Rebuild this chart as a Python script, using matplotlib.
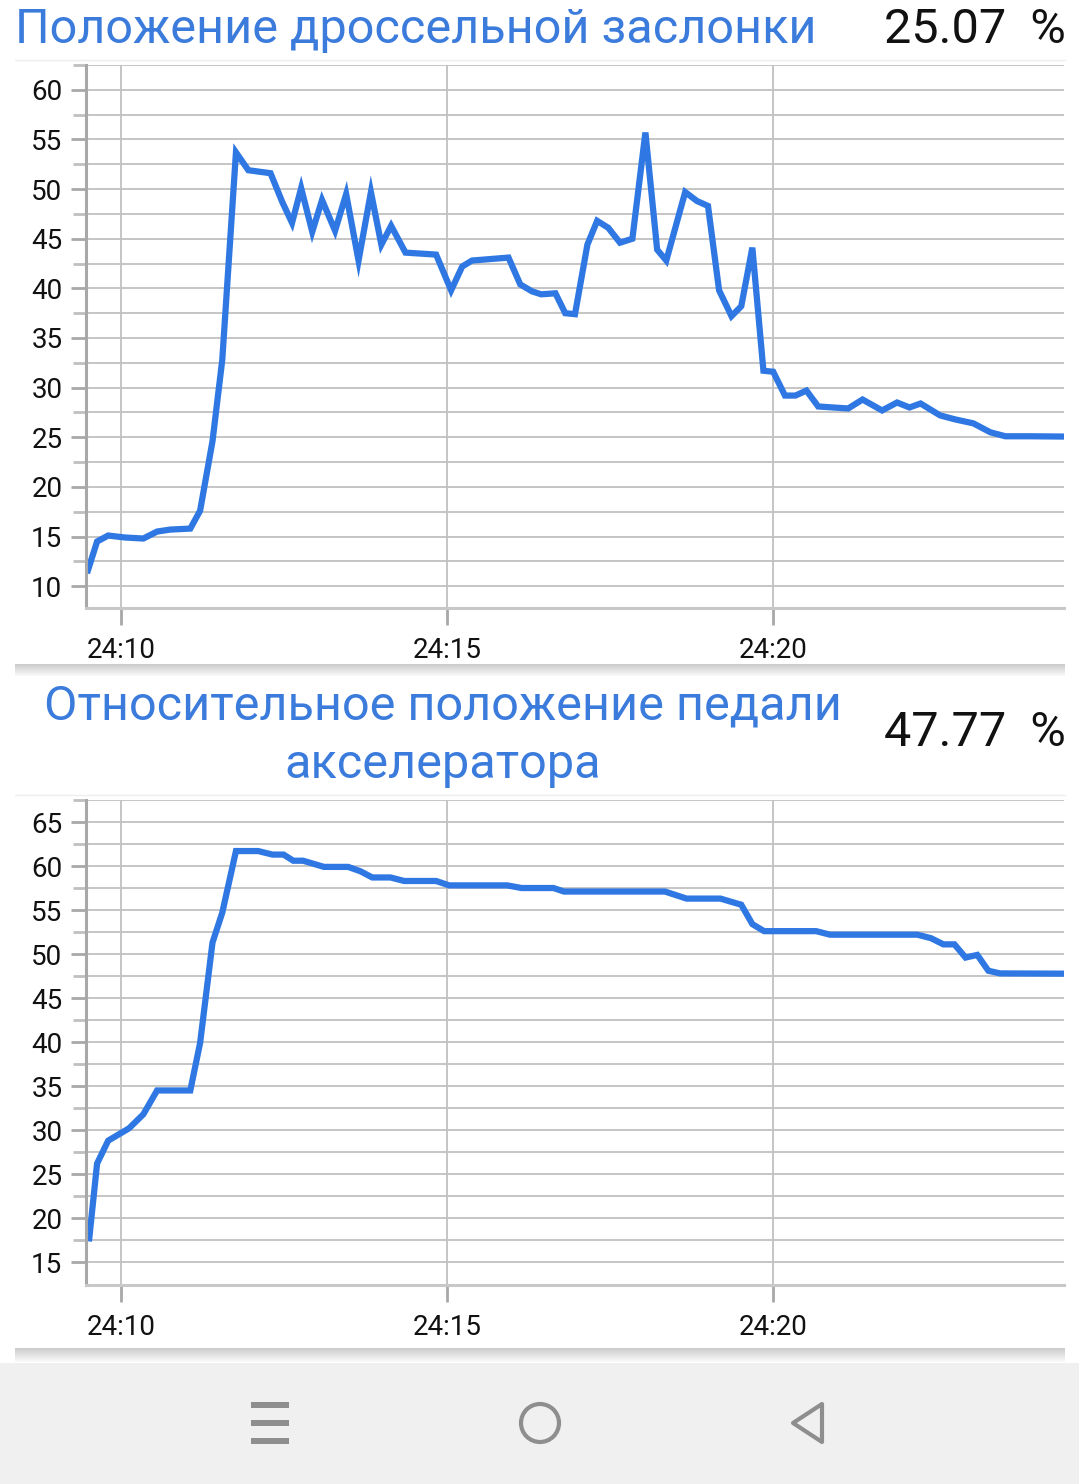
import matplotlib.pyplot as plt
from matplotlib.patches import Rectangle, Ellipse, Polygon
from matplotlib.lines import Line2D

plt.rcParams['font.family'] = ['Roboto', 'DejaVu Sans']

# time axis: minutes after 24:00
throttle_t = [9.49, 9.63, 9.80, 10.06, 10.34, 10.55, 10.75, 11.06, 11.21, 11.40,
              11.55, 11.76, 11.95, 12.29, 12.47, 12.62, 12.76, 12.93, 13.08, 13.28,
              13.45, 13.64, 13.83, 13.99, 14.14, 14.36, 14.83, 15.06, 15.23, 15.38,
              15.94, 16.12, 16.30, 16.44, 16.66, 16.81, 16.96, 17.15, 17.30, 17.47,
              17.65, 17.84, 18.04, 18.22, 18.36, 18.65, 18.83, 19.00, 19.17, 19.36,
              19.51, 19.68, 19.85, 20.00, 20.18, 20.34, 20.51, 20.69, 21.15, 21.37,
              21.67, 21.90, 22.09, 22.26, 22.56, 22.79, 23.07, 23.33, 23.56, 23.94,
              24.46]
throttle_v = [11.6, 14.5, 15.1, 14.9, 14.8, 15.5, 15.7, 15.8, 17.6, 24.6,
              32.8, 53.7, 51.9, 51.6, 48.7, 46.6, 50.1, 45.7, 48.9, 45.8,
              49.5, 42.8, 49.7, 44.4, 46.3, 43.6, 43.4, 39.8, 42.2, 42.8,
              43.1, 40.4, 39.7, 39.4, 39.5, 37.5, 37.4, 44.4, 46.8, 46.1,
              44.6, 45.0, 55.7, 43.9, 42.8, 49.7, 48.8, 48.3, 39.8, 37.2,
              38.2, 44.1, 31.7, 31.6, 29.2, 29.2, 29.7, 28.1, 27.9, 28.8,
              27.7, 28.5, 28.0, 28.4, 27.2, 26.8, 26.4, 25.5, 25.1, 25.1,
              25.07]

pedal_t = [9.51, 9.63, 9.80, 10.12, 10.34, 10.55, 11.06, 11.21, 11.40, 11.55,
           11.76, 12.10, 12.32, 12.49, 12.64, 12.79, 13.11, 13.48, 13.67, 13.85,
           14.13, 14.34, 14.83, 15.03, 15.92, 16.14, 16.63, 16.79, 18.34, 18.67,
           19.19, 19.51, 19.68, 19.86, 20.66, 20.87, 22.21, 22.42, 22.61, 22.78,
           22.95, 23.13, 23.30, 23.48, 24.46]
pedal_v = [17.7, 26.2, 28.8, 30.2, 31.8, 34.5, 34.5, 39.9, 51.3, 54.7,
           61.7, 61.7, 61.3, 61.3, 60.6, 60.6, 59.9, 59.9, 59.4, 58.7,
           58.7, 58.3, 58.3, 57.8, 57.8, 57.5, 57.5, 57.1, 57.1, 56.3,
           56.3, 55.6, 53.4, 52.6, 52.6, 52.2, 52.2, 51.8, 51.1, 51.1,
           49.6, 49.9, 48.1, 47.8, 47.77]

x_ticks = [10, 15, 20]
x_labels = ['24:10', '24:15', '24:20']

W, H = 1079, 1484
TITLE_BLUE = '#3a7bdc'
LINE_BLUE = '#2f78e3'
GRID = '#c0c0c0'
SPINE = '#a8a8a8'

fig = plt.figure(figsize=(W / 100, H / 100), dpi=100)


def fy(py):
    return 1 - py / H


def fx(px):
    return px / W


def make_axes(top, bottom, ylim, yticks):
    ax = fig.add_axes([fx(86), fy(bottom), fx(1064) - fx(86), fy(top) - fy(bottom)])
    ax.set_xlim(9.46, 24.46)
    ax.set_ylim(*ylim)
    ax.set_yticks(yticks)
    ax.set_yticks([v + 2.5 for v in yticks], minor=True)
    ax.set_xticks(x_ticks)
    ax.set_xticklabels(x_labels)
    ax.grid(True, axis='y', which='both', color=GRID, linewidth=1.3)
    ax.grid(True, axis='x', which='major', color=GRID, linewidth=1.3)
    for s in ['top', 'right']:
        ax.spines[s].set_visible(False)
    ax.spines['left'].set_color(SPINE)
    ax.spines['left'].set_linewidth(2.2)
    ax.spines['bottom'].set_color('#c8c8c8')
    ax.spines['bottom'].set_linewidth(2.2)
    ax.tick_params(axis='y', which='major', length=11, width=2, color=SPINE,
                   labelsize=20, pad=6, labelcolor='#111111')
    ax.tick_params(axis='y', which='minor', length=9.5, width=2, color='#c0c0c0')
    ax.tick_params(axis='x', which='major', length=12, width=2, color=SPINE,
                   labelsize=20, pad=9, labelcolor='#111111')
    ax.set_axisbelow(True)
    return ax


ax1 = make_axes(65, 608, (7.8, 62.2), [10, 15, 20, 25, 30, 35, 40, 45, 50, 55, 60])
ax1.plot(throttle_t, throttle_v, color=LINE_BLUE, linewidth=4.5, solid_joinstyle='miter')

ax2 = make_axes(800, 1285, (12.4, 67.4), [15, 20, 25, 30, 35, 40, 45, 50, 55, 60, 65])
ax2.plot(pedal_t, pedal_v, color=LINE_BLUE, linewidth=4.5, solid_joinstyle='miter')

# titles and current values
fig.text(fx(15), fy(30), 'Положение дроссельной заслонки', color=TITLE_BLUE,
         fontsize=35, va='center', ha='left')
fig.text(fx(1066), fy(30), '25.07  %', color='#111111', fontsize=35, va='center', ha='right')
fig.text(fx(443), fy(707), 'Относительное положение педали', color=TITLE_BLUE,
         fontsize=35, va='center', ha='center')
fig.text(fx(443), fy(765), 'акселератора', color=TITLE_BLUE,
         fontsize=35, va='center', ha='center')
fig.text(fx(1066), fy(733), '47.77  %', color='#111111', fontsize=35, va='center', ha='right')

# card separators / shadows
fig.add_artist(Line2D([fx(15), fx(1065)], [fy(60), fy(60)], color='#eeeeee', linewidth=1))
fig.add_artist(Line2D([fx(15), fx(1065)], [fy(795), fy(795)], color='#eeeeee', linewidth=1))
for y0, y1 in [(664, 676), (1348, 1362)]:
    for i in range(y1 - y0):
        g = 0.80 + 0.19 * (i / (y1 - y0))
        fig.add_artist(Rectangle((fx(15), fy(y0 + i + 1)), fx(1065) - fx(15), 1 / H,
                                 color=(g, g, g), linewidth=0))

# navigation bar
fig.add_artist(Rectangle((0, 0), 1, fy(1363), color='#f0f0f0', linewidth=0))
ICON = '#8e8e8e'
for py in [1405, 1423, 1441]:
    fig.add_artist(Rectangle((fx(251), fy(py + 3)), fx(38), 6 / H, color=ICON, linewidth=0))
fig.add_artist(Ellipse((fx(540), fy(1423)), 38 / W, 38 / H, fill=False,
                       edgecolor=ICON, linewidth=3))
fig.add_artist(Polygon([(fx(822), fy(1404)), (fx(822), fy(1442)), (fx(793), fy(1423))],
                       closed=True, fill=False, edgecolor=ICON, linewidth=3,
                       joinstyle='round'))

fig.savefig('out.png', dpi=100)
